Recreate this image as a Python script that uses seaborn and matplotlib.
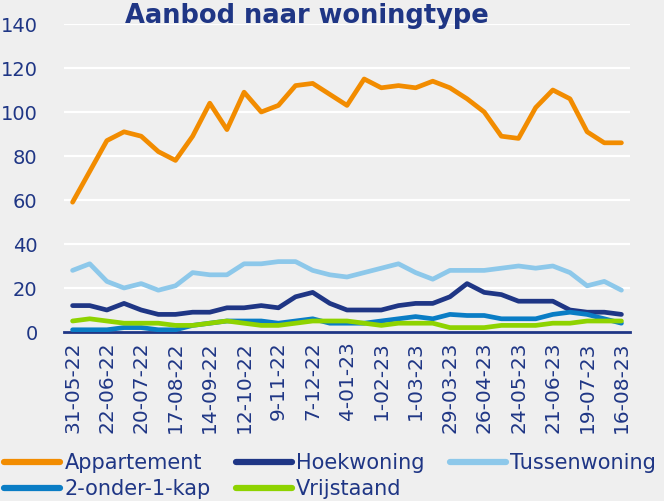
import numpy as np
import pandas as pd
import seaborn as sns
import matplotlib.pyplot as plt
from matplotlib.lines import Line2D

# Data
dates = ['31-05-22', '8-06-22', '22-06-22', '6-07-22', '20-07-22', '3-08-22',
         '17-08-22', '31-08-22', '14-09-22', '28-09-22', '12-10-22', '26-10-22',
         '9-11-22', '23-11-22', '7-12-22', '21-12-22', '4-01-23', '18-01-23',
         '1-02-23', '15-02-23', '1-03-23', '15-03-23', '29-03-23', '12-04-23',
         '26-04-23', '10-05-23', '24-05-23', '7-06-23', '21-06-23', '5-07-23',
         '19-07-23', '2-08-23', '16-08-23']
appartement = [59, 73, 87, 91, 89, 82, 78, 89, 104, 92, 109, 100, 103, 112, 113, 108,
               103, 115, 111, 112, 111, 114, 111, 106, 100, 89, 88, 102, 110, 106, 91, 86, 86]
hoekwoning = [12, 12, 10, 13, 10, 8, 8, 9, 9, 11, 11, 12, 11, 16, 18, 13,
              10, 10, 10, 12, 13, 13, 16, 22, 18, 17, 14, 14, 14, 10, 9, 9, 8]
tussenwoning = [28, 31, 23, 20, 22, 19, 21, 27, 26, 26, 31, 31, 32, 32, 28, 26,
                25, 27, 29, 31, 27, 24, 28, 28, 28, 29, 30, 29, 30, 27, 21, 23, 19]
twee_onder_1_kap = [1, 1, 1, 2, 2, 1, 1, 3, 4, 5, 5, 5, 4, 5, 6, 4,
                    4, 4, 5, 6, 7, 6, 8, 7.5, 7.5, 6, 6, 6, 8, 9, 8, 6, 4]
vrijstaand = [5, 6, 5, 4, 4, 4, 3, 3, 4, 5, 4, 3, 3, 4, 5, 5,
              5, 4, 3, 4, 4, 4, 2, 2, 2, 3, 3, 3, 4, 4, 5, 5, 5]

series = {'Appartement': appartement, 'Hoekwoning': hoekwoning,
          'Tussenwoning': tussenwoning, '2-onder-1-kap': twee_onder_1_kap,
          'Vrijstaand': vrijstaand}
colors = ['#F28C00', '#1F3685', '#8DC8EA', '#0A7DC5', '#8ED300']

rows = []
for name, vals in series.items():
    for i, v in enumerate(vals):
        rows.append({'idx': i, 'datum': dates[i], 'type': name, 'aantal': v})
df = pd.DataFrame(rows)

navy = '#1F3685'
bg = '#EFEFEF'

sns.set_style('white')
plt.rcParams['font.family'] = ['DejaVu Sans']

fig = plt.figure(figsize=(6.64, 5.01), dpi=100, facecolor=bg)
ax = fig.add_axes([64/664, 1-332/501, (630-64)/664, (332-24)/501])
ax.set_facecolor(bg)

sns.lineplot(data=df, x='idx', y='aantal', hue='type', palette=colors,
             linewidth=3.4, legend=False, ax=ax, zorder=3)
for ln in ax.lines:
    ln.set_solid_capstyle('round')
    ln.set_solid_joinstyle('round')

ax.set_ylim(0, 140)
ax.set_xlim(-0.5, len(dates) - 0.5)
ax.set_yticks(range(0, 141, 20))
ax.yaxis.grid(True, color='white', linewidth=1.6, zorder=0)
ax.xaxis.grid(False)
ax.set_axisbelow(True)

ax.set_xticks(range(0, len(dates), 2))
ax.set_xticklabels(dates[::2], rotation=90)
ax.set_xticks(np.arange(-0.5, len(dates), 1), minor=True)
ax.tick_params(axis='x', which='major', length=0, pad=7, labelsize=14.5, labelcolor=navy)
ax.tick_params(axis='x', which='minor', length=6, width=1.5, color=navy, direction='out')
ax.tick_params(axis='y', length=0, pad=19, labelsize=14, labelcolor=navy)
ax.set_xlabel('')
ax.set_ylabel('')

for s in ['top', 'right', 'left']:
    ax.spines[s].set_visible(False)
ax.spines['bottom'].set_color(navy)
ax.spines['bottom'].set_linewidth(2)

fig.text(0.462, 0.994, 'Aanbod naar woningtype', ha='center', va='top',
         fontsize=18.5, fontweight='bold', color=navy)

# legend filled column by column, so order gives rows: App/Hoek/Tussen, 2o1k/Vrij
names = list(series.keys())
order = [0, 3, 1, 4, 2]
handles = [Line2D([0], [0], color=colors[k], linewidth=4.5, solid_capstyle='round') for k in order]
leg = fig.legend(handles, [names[k] for k in order], loc='lower left',
                 bbox_to_anchor=(0.0, -0.005), ncol=3, frameon=False, fontsize=15,
                 handlelength=2.7, handletextpad=0.2, columnspacing=1.2,
                 labelspacing=0.3, borderaxespad=0.1, borderpad=0.1)
for t in leg.get_texts():
    t.set_color(navy)

fig.savefig('out.png', dpi=100, facecolor=bg)
